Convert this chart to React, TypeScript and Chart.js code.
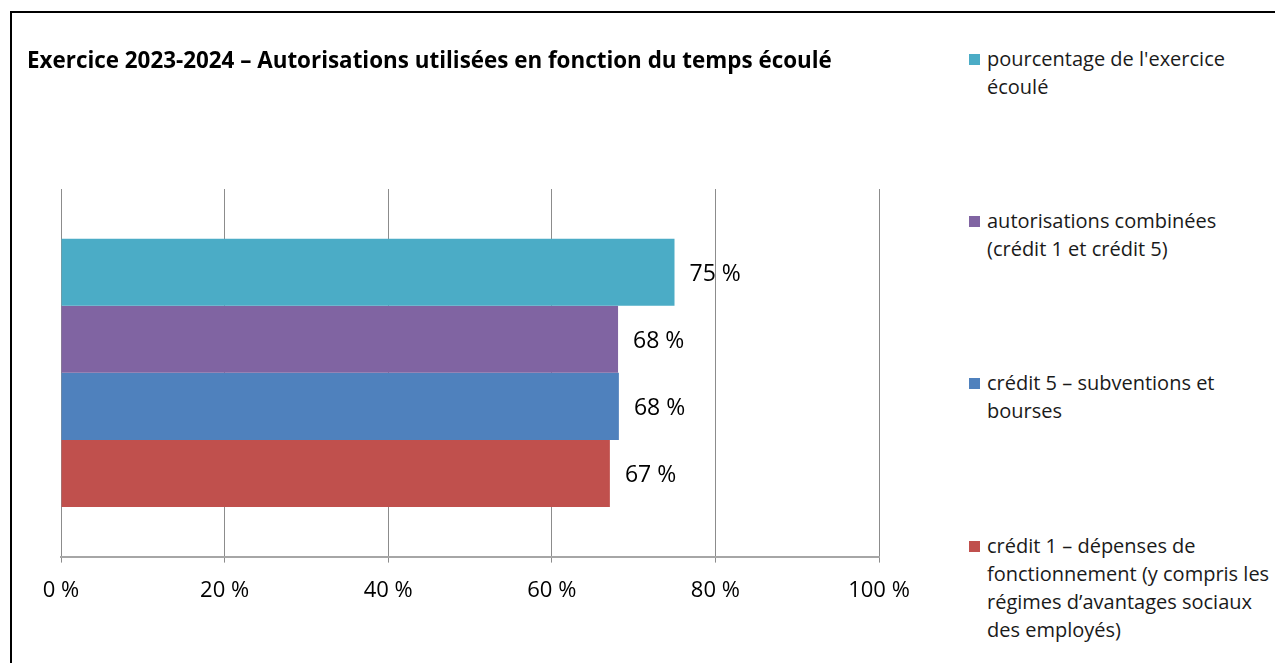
import React, { useEffect, useRef } from "react";
import { Chart, registerables } from "chart.js";

Chart.register(...registerables);

const title = "Exercice 2023-2024 – Autorisations utilisées en fonction du temps écoulé";
const categories = [""];
const seriesLabels = [
  "pourcentage de l'exercice\nécoulé",
  "autorisations combinées\n(crédit 1 et crédit 5)",
  "crédit 5 – subventions et\nbourses",
  "crédit 1 – dépenses de\nfonctionnement (y compris les\nrégimes d’avantages sociaux\ndes employés)",
];
const seriesValues = [75, 68.1, 68.2, 67.1];
const dataLabels = ["75 %", "68 %", "68 %", "67 %"];
const seriesColors = ["#4BACC6", "#8064A2", "#4F81BD", "#C0504D"];
const tickValues = [0, 20, 40, 60, 80, 100];
const tickLabels = ["0 %", "20 %", "40 %", "60 %", "80 %", "100 %"];

const FONT = "'Open Sans', 'DejaVu Sans', sans-serif";

const labelPlugin = {
  id: "barValueLabels",
  afterDatasetsDraw(chart: any) {
    const ctx = chart.ctx;
    ctx.save();
    ctx.font = `23px ${FONT}`;
    ctx.fillStyle = "#000";
    ctx.textAlign = "left";
    ctx.textBaseline = "middle";
    chart.data.datasets.forEach((ds: any, i: number) => {
      const meta = chart.getDatasetMeta(i);
      meta.data.forEach((bar: any) => {
        ctx.fillText(dataLabels[i], bar.x + 15, bar.y + 2);
      });
    });
    ctx.restore();
  },
};

export default function App() {
  const canvasRef = useRef<HTMLCanvasElement | null>(null);

  useEffect(() => {
    document.body.style.margin = "0";
    document.body.style.overflow = "hidden";
    const chart = new Chart(canvasRef.current as HTMLCanvasElement, {
      type: "bar",
      data: {
        labels: categories,
        datasets: seriesLabels.map((label, i) => ({
          label,
          data: [seriesValues[i]],
          backgroundColor: seriesColors[i],
          borderWidth: 0,
          categoryPercentage: 0.73,
          barPercentage: 1,
        })),
      },
      options: {
        indexAxis: "y",
        animation: false,
        responsive: false,
        maintainAspectRatio: false,
        layout: { padding: { left: 61, right: 61, top: 189, bottom: 44 } },
        plugins: {
          legend: { display: false },
          title: { display: false },
          tooltip: { enabled: false },
        },
        scales: {
          x: {
            min: 0,
            max: 100,
            afterBuildTicks: (axis: any) => {
              axis.ticks = tickValues.map((v) => ({ value: v }));
            },
            grid: {
              color: "#8c8c8c",
              lineWidth: 1,
              drawTicks: true,
              tickLength: 6,
            },
            border: { color: "#a6a6a6", width: 2 },
            ticks: {
              padding: 15,
              color: "#000",
              font: { family: FONT, size: 22 },
              callback: (v: any) => tickLabels[tickValues.indexOf(Number(v))] ?? "",
            },
          },
          y: { display: false },
        },
      },
      plugins: [labelPlugin],
    });
    return () => chart.destroy();
  }, []);

  const legendTops = [59, 221, 383, 546];

  return (
    <div
      style={{
        position: "fixed",
        left: 0,
        top: 0,
        width: 1275,
        height: 663,
        overflow: "hidden",
        background: "#fff",
        fontFamily: FONT,
      }}
    >
      <div
        style={{
          position: "absolute",
          left: 10,
          top: 11,
          width: 1400,
          height: 800,
          border: "2px solid #000",
          boxSizing: "border-box",
        }}
      />
      <canvas
        ref={canvasRef}
        width={940}
        height={663}
        style={{ position: "absolute", left: 0, top: 0, width: 940, height: 663 }}
      />
      <div
        style={{
          position: "absolute",
          left: 27,
          top: 59,
          transform: "translateY(-50%)",
          fontWeight: 700,
          fontSize: 22.4,
          color: "#000",
          whiteSpace: "nowrap",
        }}
      >
        {title}
      </div>
      {seriesLabels.map((label, i) => (
        <div
          key={i}
          style={{
            position: "absolute",
            left: 969,
            top: legendTops[i] - 14,
            width: 306,
            display: "flex",
            alignItems: "flex-start",
          }}
        >
          <span
            style={{
              display: "inline-block",
              width: 11,
              height: 11,
              marginTop: 9,
              marginRight: 7,
              background: seriesColors[i],
              flex: "none",
            }}
          />
          <span
            style={{
              fontSize: 20,
              lineHeight: "28px",
              color: "#1a1a1a",
              whiteSpace: "pre",
            }}
          >
            {label}
          </span>
        </div>
      ))}
    </div>
  );
}
